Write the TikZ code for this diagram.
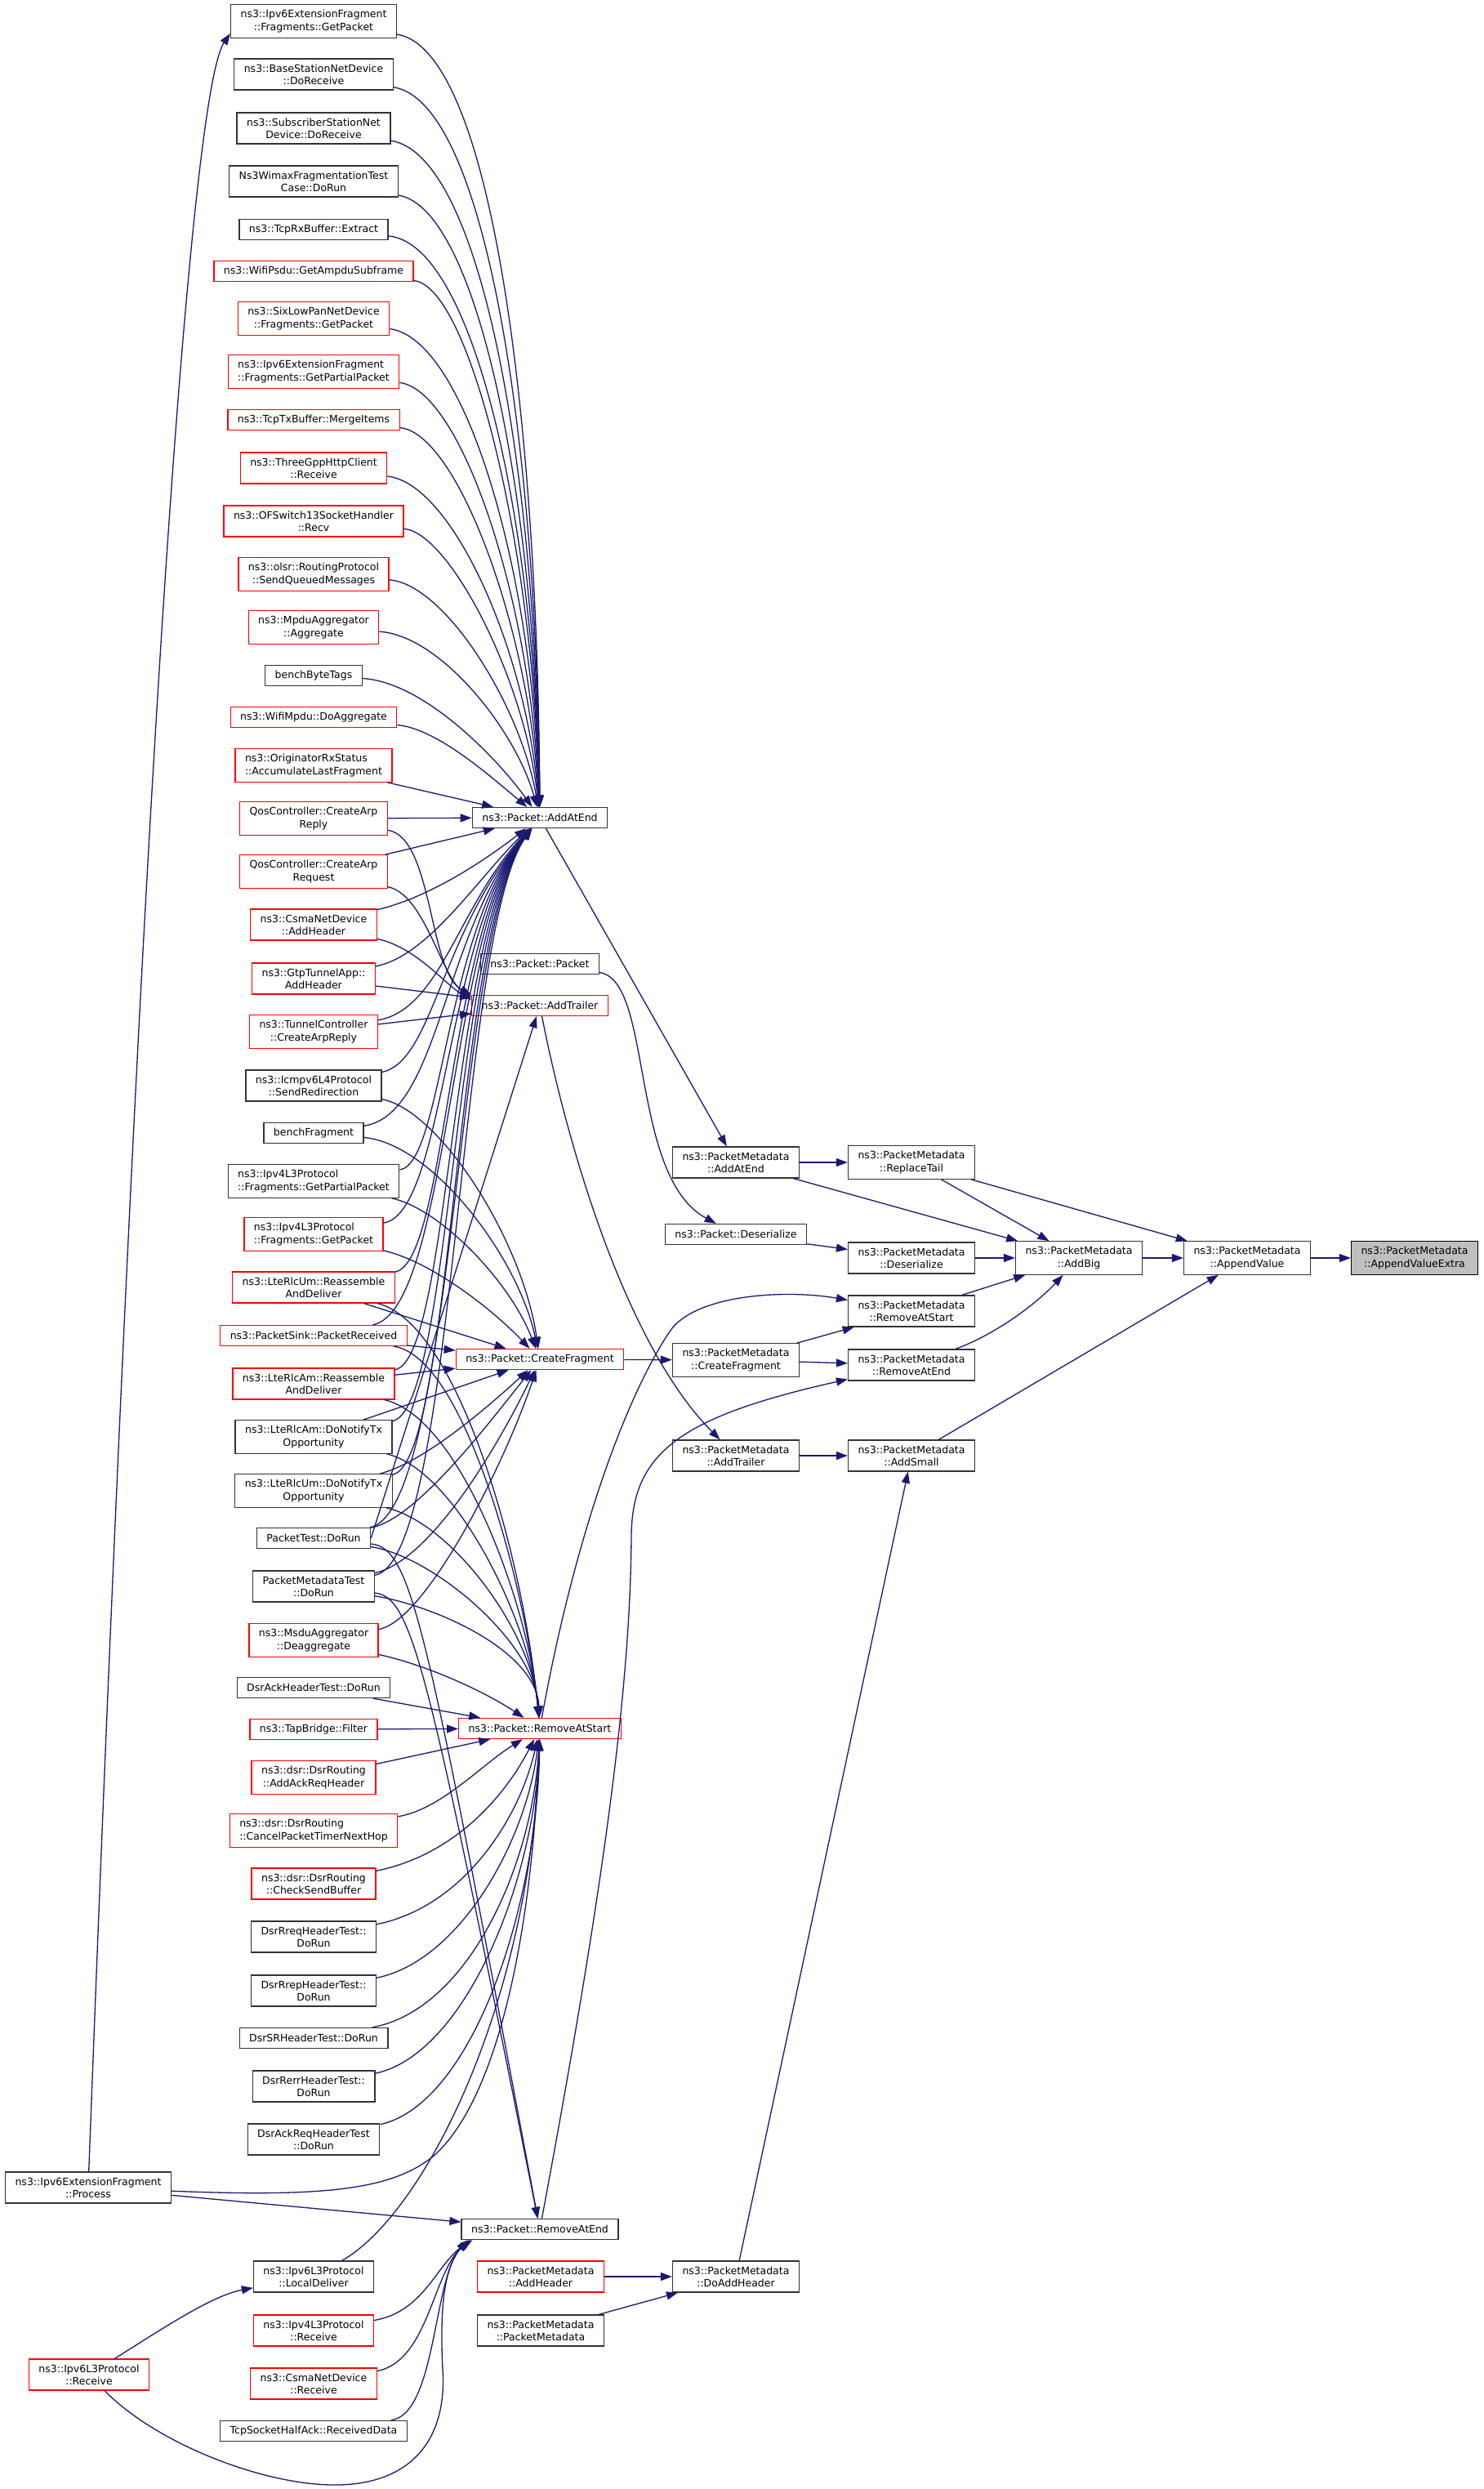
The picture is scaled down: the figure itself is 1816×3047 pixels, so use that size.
\documentclass[tikz,border=0pt]{standalone}
\usepackage{fontspec}
\usepackage{tikz}
\usetikzlibrary{arrows.meta}
\newfontfamily\dotfont{DejaVu Sans}
\definecolor{edgeblue}{HTML}{191970}
% first line left-justified, second centred (as in the graph labels)
\newcommand{\twolines}[2]{\setbox0\hbox{#1}\setbox2\hbox{#2}%
  \ifdim\wd0<\wd2 \makebox[\wd2][l]{#1}\else #1\fi\\#2}
\tikzset{
  box/.style={draw=black!80, fill=white, line width=1.3pt, inner xsep=12pt, inner ysep=6.5pt,
    minimum height=25pt, align=center, font=\dotfont\fontsize{12.5}{15.3}\selectfont},
  redbox/.style={box, draw=red},
  focusbox/.style={box, draw=black, fill=gray!50},
  call/.style={->, draw=edgeblue, line width=1.3pt},
  >={Triangle[length=14pt,width=10pt]}
}

\begin{document}
\begin{tikzpicture}[x=1pt,y=-1pt]
\useasboundingbox (0,0) rectangle (1816,3047);
\fill[white] (0,0) rectangle (1816,3047);
% callers, black
\foreach \n/\y/\t in {fragGet/26/{\twolines{ns3::Ipv6ExtensionFragment}{::Fragments::GetPacket}},
  bsRecv/91/{\twolines{ns3::BaseStationNetDevice}{::DoReceive}},
  ssRecv/157/{\twolines{ns3::SubscriberStationNet}{Device::DoReceive}},
  wimaxRun/222/{\twolines{Ns3WimaxFragmentationTest}{Case::DoRun}},
  rxExtract/281/{ns3::TcpRxBuffer::Extract},
  benchTags/827/{benchByteTags},
  icmpRedir/1329/{\twolines{ns3::Icmpv6L4Protocol}{::SendRedirection}},
  benchFrag/1387/{benchFragment},
  ipv4Partial/1446/{\twolines{ns3::Ipv4L3Protocol}{::Fragments::GetPartialPacket}},
  amNotify/1759/{\twolines{ns3::LteRlcAm::DoNotifyTx}{Opportunity}},
  umNotify/1825/{\twolines{ns3::LteRlcUm::DoNotifyTx}{Opportunity}},
  pktTest/1883/{PacketTest::DoRun},
  metaTest/1942/{\twolines{PacketMetadataTest}{::DoRun}},
  dsrAckTest/2066/{DsrAckHeaderTest::DoRun},
  rreqTest/2371/{\twolines{DsrRreqHeaderTest::}{DoRun}},
  rrepTest/2437/{\twolines{DsrRrepHeaderTest::}{DoRun}},
  srTest/2495/{DsrSRHeaderTest::DoRun},
  rerrTest/2554/{\twolines{DsrRerrHeaderTest::}{DoRun}},
  ackReqTest/2619/{\twolines{DsrAckReqHeaderTest}{::DoRun}},
  v6Local/2787/{\twolines{ns3::Ipv6L3Protocol}{::LocalDeliver}},
  tcpHalf/2976/{TcpSocketHalfAck::ReceivedData}}
  \node[box] (\n) at (384,\y) {\t};
% callers, red
\foreach \n/\y/\t in {psduSub/332/{ns3::WifiPsdu::GetAmpduSubframe},
  sixGet/390/{\twolines{ns3::SixLowPanNetDevice}{::Fragments::GetPacket}},
  fragPartial/455/{\twolines{ns3::Ipv6ExtensionFragment}{::Fragments::GetPartialPacket}},
  txMerge/514/{ns3::TcpTxBuffer::MergeItems},
  httpRecv/573/{\twolines{ns3::ThreeGppHttpClient}{::Receive}},
  ofsRecv/638/{\twolines{ns3::OFSwitch13SocketHandler}{::Recv}},
  olsrSend/703/{\twolines{ns3::olsr::RoutingProtocol}{::SendQueuedMessages}},
  mpduAgg/768/{\twolines{ns3::MpduAggregator}{::Aggregate}},
  mpduDoAgg/878/{ns3::WifiMpdu::DoAggregate},
  origAcc/937/{\twolines{ns3::OriginatorRxStatus}{::AccumulateLastFragment}},
  arpReply/1002/{\twolines{QosController::CreateArp}{Reply}},
  arpRequest/1067/{\twolines{QosController::CreateArp}{Request}},
  csmaAddHdr/1132/{\twolines{ns3::CsmaNetDevice}{::AddHeader}},
  gtpAddHdr/1198/{\twolines{ns3::GtpTunnelApp::}{AddHeader}},
  tunnelArp/1263/{\twolines{ns3::TunnelController}{::CreateArpReply}},
  ipv4Get/1511/{\twolines{ns3::Ipv4L3Protocol}{::Fragments::GetPacket}},
  umReasm/1576/{\twolines{ns3::LteRlcUm::Reassemble}{AndDeliver}},
  sinkRecv/1635/{ns3::PacketSink::PacketReceived},
  amReasm/1694/{\twolines{ns3::LteRlcAm::Reassemble}{AndDeliver}},
  msduDeagg/2008/{\twolines{ns3::MsduAggregator}{::Deaggregate}},
  tapFilter/2117/{ns3::TapBridge::Filter},
  dsrAckReq/2176/{\twolines{ns3::dsr::DsrRouting}{::AddAckReqHeader}},
  dsrCancel/2241/{\twolines{ns3::dsr::DsrRouting}{::CancelPacketTimerNextHop}},
  dsrCheck/2306/{\twolines{ns3::dsr::DsrRouting}{::CheckSendBuffer}},
  v4Recv/2853/{\twolines{ns3::Ipv4L3Protocol}{::Receive}},
  csmaRecv/2918/{\twolines{ns3::CsmaNetDevice}{::Receive}}}
  \node[redbox] (\n) at (384,\y) {\t};
\node[box] (fragProcess) at (108,2678) {\twolines{ns3::Ipv6ExtensionFragment}{::Process}};
\node[redbox] (v6Recv) at (109,2907) {\twolines{ns3::Ipv6L3Protocol}{::Receive}};
% ns3::Packet
\node[box] (addAtEnd) at (661,1001) {ns3::Packet::AddAtEnd};
\node[box] (pktCtor) at (661,1180) {ns3::Packet::Packet};
\node[redbox] (addTrailer) at (661,1231) {ns3::Packet::AddTrailer};
\node[redbox] (createFrag) at (661,1664) {ns3::Packet::CreateFragment};
\node[redbox] (removeStart) at (661,2116) {ns3::Packet::RemoveAtStart};
\node[box] (removeEnd) at (661,2729) {ns3::Packet::RemoveAtEnd};
\node[redbox] (mdAddHeader) at (662,2787) {\twolines{ns3::PacketMetadata}{::AddHeader}};
\node[box] (mdCtor) at (662,2853) {\twolines{ns3::PacketMetadata}{::PacketMetadata}};
% ns3::PacketMetadata
\node[box] (mdAddAtEnd) at (901,1423) {\twolines{ns3::PacketMetadata}{::AddAtEnd}};
\node[box] (deserialize) at (901,1511) {ns3::Packet::Deserialize};
\node[box] (mdCreateFrag) at (901,1665) {\twolines{ns3::PacketMetadata}{::CreateFragment}};
\node[box] (mdAddTrailer) at (901,1782) {\twolines{ns3::PacketMetadata}{::AddTrailer}};
\node[box] (doAddHeader) at (901,2787) {\twolines{ns3::PacketMetadata}{::DoAddHeader}};
\node[box] (replaceTail) at (1116,1423) {\twolines{ns3::PacketMetadata}{::ReplaceTail}};
\node[box] (mdDeserialize) at (1116,1540) {\twolines{ns3::PacketMetadata}{::Deserialize}};
\node[box] (mdRemoveStart) at (1116,1605) {\twolines{ns3::PacketMetadata}{::RemoveAtStart}};
\node[box] (mdRemoveEnd) at (1116,1671) {\twolines{ns3::PacketMetadata}{::RemoveAtEnd}};
\node[box] (addSmall) at (1116,1782) {\twolines{ns3::PacketMetadata}{::AddSmall}};
\node[box] (addBig) at (1321,1540) {\twolines{ns3::PacketMetadata}{::AddBig}};
\node[box] (appendValue) at (1527,1540) {\twolines{ns3::PacketMetadata}{::AppendValue}};
\node[focusbox] (appendExtra) at (1732,1540) {\twolines{ns3::PacketMetadata}{::AppendValueExtra}};

% straight calls
\foreach \a/\b in {origAcc/addAtEnd, arpReply/addAtEnd, arpRequest/addAtEnd,
  gtpAddHdr/addTrailer, tunnelArp/addTrailer, umReasm/createFrag, sinkRecv/createFrag,
  amReasm/createFrag, amNotify/createFrag, dsrAckTest/removeStart, tapFilter/removeStart,
  dsrAckReq/removeStart, fragProcess/removeEnd, addAtEnd/mdAddAtEnd, createFrag/mdCreateFrag,
  mdAddHeader/doAddHeader, mdCtor/doAddHeader, mdAddAtEnd/replaceTail, mdAddAtEnd/addBig,
  deserialize/mdDeserialize, mdCreateFrag/mdRemoveStart, mdCreateFrag/mdRemoveEnd,
  mdAddTrailer/addSmall, doAddHeader/addSmall, replaceTail/addBig, replaceTail/appendValue,
  mdDeserialize/addBig, mdRemoveStart/addBig, addBig/appendValue, addSmall/appendValue,
  appendValue/appendExtra}
  \draw[call] (\a) -- (\b);
% to Packet::AddAtEnd
\foreach \n/\ax/\ay/\bx/\by in {fragGet/600/60/658/500, bsRecv/595/125/657/540,
  ssRecv/590/190/656/575, wimaxRun/585/255/655/610, rxExtract/580/298/654/640,
  psduSub/575/350/653/670, sixGet/570/415/652/700, fragPartial/565/478/650/735,
  txMerge/560/530/648/770, httpRecv/555/592/645/800, ofsRecv/550/652/642/830,
  olsrSend/545/715/638/865, mpduAgg/540/778/632/895, benchTags/520/835/610/930,
  mpduDoAgg/535/892/600/950, csmaAddHdr/520/1100/585/1060, gtpAddHdr/525/1170/585/1075,
  tunnelArp/540/1235/560/1110, icmpRedir/530/1300/540/1140, benchFrag/538/1365/542/1140,
  ipv4Partial/542/1425/544/1140, ipv4Get/545/1485/546/1140, umReasm/547/1545/548/1140,
  sinkRecv/549/1605/550/1140, amReasm/551/1665/552/1140, amNotify/553/1725/554/1140,
  umNotify/555/1790/556/1140, pktTest/557/1850/558/1140, metaTest/559/1910/560/1140}
  \draw[call] (\n) .. controls (\ax,\ay) and (\bx,\by) .. (addAtEnd);
% to Packet::AddTrailer
\draw[call] (arpReply) .. controls (530,1025) and (525,1190) .. (addTrailer.north west);
\draw[call] (arpRequest) .. controls (520,1095) and (540,1195) .. ([yshift=-3pt]addTrailer.north west);
\draw[call] (csmaAddHdr) .. controls (510,1160) and (545,1205) .. ([yshift=-6pt]addTrailer.north west);
\draw[call] (pktTest.east) -- (addTrailer);
% to Packet::CreateFragment
\foreach \n/\ax/\ay/\bx/\by in {icmpRedir/540/1360/640/1520, benchFrag/530/1400/635/1540,
  ipv4Partial/540/1480/625/1570, ipv4Get/530/1545/605/1605, umNotify/520/1790/600/1720,
  pktTest/510/1860/600/1740, metaTest/530/1910/615/1760, msduDeagg/520/1985/615/1800}
  \draw[call] (\n) .. controls (\ax,\ay) and (\bx,\by) .. (createFrag);
% to Packet::RemoveAtStart
\foreach \n/\ax/\ay/\bx/\by in {umReasm/560/1620/640/1900, sinkRecv/570/1660/645/1950,
  amReasm/565/1735/648/1970, amNotify/560/1800/650/1990, umNotify/555/1865/652/2000,
  pktTest/530/1905/655/2010, metaTest/530/1965/657/2020, msduDeagg/530/2040/600/2075,
  dsrCancel/540/2215/590/2160, dsrCheck/560/2270/620/2195, rreqTest/565/2335/635/2230,
  rrepTest/565/2400/645/2250, srTest/575/2460/652/2280, rerrTest/570/2515/655/2300,
  ackReqTest/580/2575/658/2330, v6Local/520/2710/650/2450}
  \draw[call] (\n) .. controls (\ax,\ay) and (\bx,\by) .. (removeStart);
\draw[call] (fragProcess) .. controls (400,2690) and (480,2680) .. (530,2640)
  .. controls (600,2580) and (650,2400) .. (removeStart);
% to Packet::RemoveAtEnd
\draw[call] (pktTest) .. controls (505,1895) and (522,1990) .. (removeEnd);
\draw[call] (metaTest) .. controls (505,1955) and (524,2040) .. (removeEnd);
\foreach \n/\ax/\ay/\bx/\by/\dx in {v4Recv/520/2830/535/2770/14, csmaRecv/525/2890/530/2780/12,
  tcpHalf/535/2955/530/2785/10}
  \draw[call] (\n) .. controls (\ax,\ay) and (\bx,\by) .. ([xshift=\dx pt]removeEnd.south west);
\draw[call] (v6Recv) .. controls (190,2990) and (320,3042) .. (410,3042)
  .. controls (500,3042) and (548,2990) .. (542,2900)
  .. controls (538,2820) and (545,2775) .. ([xshift=8pt]removeEnd.south west);
% other calls
\draw[call] (fragProcess) .. controls (175,900) and (235,110) .. ([yshift=-15pt]fragGet.west);
\draw[call] (v6Recv) .. controls (200,2850) and (260,2810) .. (v6Local);
\draw[call] (pktCtor) .. controls (800,1200) and (770,1440) .. (deserialize);
\draw[call] (addTrailer) .. controls (690,1380) and (760,1640) .. (mdAddTrailer);
\draw[call] (removeStart) .. controls (700,1900) and (760,1720) .. (820,1630)
  .. controls (850,1585) and (960,1578) .. (mdRemoveStart);
\draw[call] (removeEnd) .. controls (745,2280) and (772,2050) .. (773,1880)
  .. controls (774,1780) and (830,1735) .. (mdRemoveEnd);
\draw[call] (mdRemoveEnd) .. controls (1215,1635) and (1265,1600) .. (addBig);
\end{tikzpicture}
\end{document}
